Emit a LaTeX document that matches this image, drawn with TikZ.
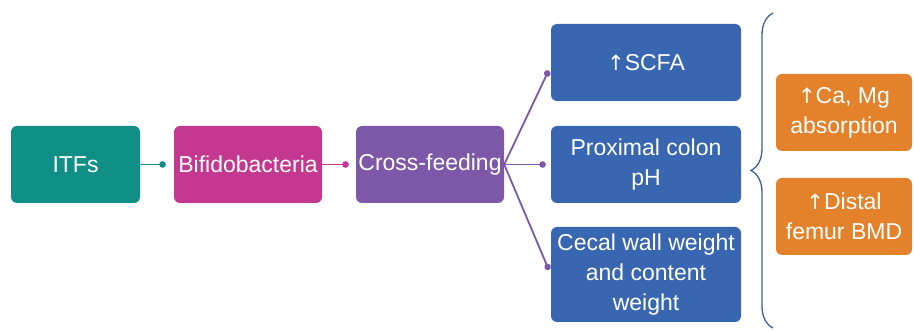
\documentclass[tikz,border=0pt]{standalone}
\usepackage{fontspec}
\setmainfont{Liberation Sans}
\newfontfamily\arrfont{DejaVu Sans}
\usetikzlibrary{decorations.pathreplacing,arrows.meta}
\definecolor{cteal}{HTML}{0F8F86}
\definecolor{cmag}{HTML}{C4398F}
\definecolor{cpurp}{HTML}{7D58A8}
\definecolor{cblue}{HTML}{3866B0}
\definecolor{corange}{HTML}{E4822B}
\definecolor{cbrace}{HTML}{3A5DA0}
\newcommand{\upar}{{\arrfont\fontsize{21}{30}\selectfont\char"2191}}
\begin{document}
\begin{tikzpicture}[x=1pt,y=-1pt,
  box/.style={rounded corners=6pt, text=white, font=\fontsize{23}{30}\selectfont, align=center, inner sep=0pt, minimum height=77pt},
  conn/.style={line width=1.8pt, -{Circle[length=6.5pt]}}]
\useasboundingbox (0,0) rectangle (914,331);
\node[box, fill=cteal, minimum width=129pt] (itf) at (75.5,164.5) {ITFs};
\node[box, fill=cmag, minimum width=148pt] (bif) at (248,164.5) {Bifidobacteria};
\node[box, fill=cpurp, minimum width=148pt] (cross) at (430,164.5) {Cross-feeding};
\node[box, fill=cblue, minimum width=190pt] (scfa) at (646,62.5) {\upar SCFA};
\node[box, fill=cblue, minimum width=190pt] (prox) at (646,164.5) {Proximal colon\\pH};
\node[box, fill=cblue, minimum width=190pt, minimum height=95pt] (cecal) at (646,274.5) {Cecal wall weight\\and content\\weight};
\node[box, fill=corange, minimum width=136pt] (ca) at (844,112.5) {\upar Ca, Mg\\absorption};
\node[box, fill=corange, minimum width=136pt] (bmd) at (844,216.5) {\upar Distal\\femur BMD};
\draw[conn, cteal, shorten >=8pt] (itf.east) -- (bif.west);
\draw[conn, cmag, shorten >=7pt] (bif.east) -- (cross.west);
\draw[conn, cpurp, shorten >=5pt] (cross.east) -- ([yshift=-3.5pt]scfa.west);
\draw[conn, cpurp, shorten >=5pt] (cross.east) -- (prox.west);
\draw[conn, cpurp, shorten >=5pt] (cross.east) -- (cecal.west);
\coordinate (bb) at (773,328);
\coordinate (bt) at (773,13);
\draw[cbrace, line width=1.3pt, decorate, decoration={brace, amplitude=22pt}] (bb) -- (bt);
\end{tikzpicture}
\end{document}
